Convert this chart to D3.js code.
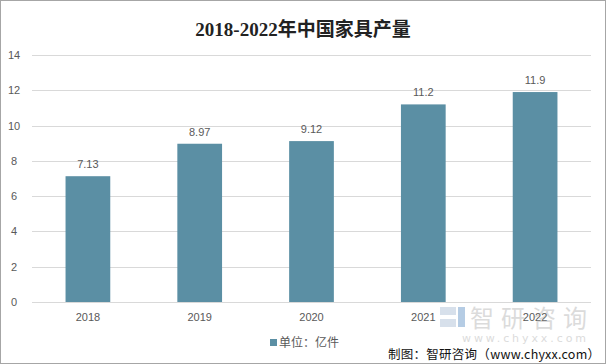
<!DOCTYPE html>
<html><head><meta charset="utf-8">
<script src="https://cdn.jsdelivr.net/npm/d3@7/dist/d3.min.js"></script>
<style>html,body{margin:0;padding:0;background:#fff;}svg{display:block;}</style>
</head><body>
<script>
const categories = ["2018","2019","2020","2021","2022"];
const values = [7.13, 8.97, 9.12, 11.2, 11.9];
const valueLabels = ["7.13","8.97","9.12","11.2","11.9"];
const yTicks = [0,2,4,6,8,10,12,14];
const title = "2018-2022年中国家具产量";
const legendLabel = "单位：亿件";
const source = "制图：智研咨询（www.chyxx.com）";

const W = 606, H = 364;
const svg = d3.select("body").append("svg").attr("width", W).attr("height", H);
svg.append("rect").attr("x",0.5).attr("y",0.5).attr("width",W-1).attr("height",H-1)
  .attr("fill","#fff").attr("stroke","#a6a6a6");

const x = d3.scaleBand().domain(categories).range([32, 591]).paddingInner(0.6).paddingOuter(0.3);
const y = d3.scaleLinear().domain([0,14]).range([302, 55]);

svg.append("text").attr("x", 303).attr("y", 36).attr("text-anchor","middle")
  .attr("font-family","'Liberation Serif','DejaVu Serif','Noto Sans CJK SC',serif")
  .attr("font-weight","bold").attr("font-size",19).attr("fill","#222").text(title);

// gridlines
svg.append("g").selectAll("line").data(yTicks).join("line")
  .attr("x1",32).attr("x2",591).attr("y1",d=>Math.round(y(d))+0.5).attr("y2",d=>Math.round(y(d))+0.5)
  .attr("stroke","#d9d9d9").attr("stroke-width",1);

// y axis labels
const yAxis = d3.axisLeft(y).tickValues(yTicks).tickSize(0).tickPadding(0);
const gy = svg.append("g").attr("transform","translate(20,0)").call(yAxis);
gy.select(".domain").remove();
gy.selectAll("text").attr("font-family","'Liberation Sans',Arial,sans-serif").attr("font-size",11).attr("fill","#595959").attr("text-anchor","middle").attr("dx",-6);

// x axis
const xAxis = d3.axisBottom(x).tickSize(0).tickPadding(11);
const gx = svg.append("g").attr("transform","translate(0,302)").call(xAxis);
gx.select(".domain").remove();
gx.selectAll("text").attr("font-family","'Liberation Sans',Arial,sans-serif").attr("font-size",11).attr("fill","#595959");

// bars
svg.append("g").selectAll("rect").data(values).join("rect")
  .attr("x",(d,i)=>x(categories[i])).attr("width",x.bandwidth())
  .attr("y",d=>y(d)).attr("height",d=>y(0)-y(d)).attr("fill","#5b8fa4");

svg.append("g").selectAll("text").data(values).join("text")
  .attr("x",(d,i)=>x(categories[i])+x.bandwidth()/2).attr("y",d=>y(d)-8)
  .attr("text-anchor","middle").attr("font-family","'Liberation Sans',Arial,sans-serif")
  .attr("font-size",11).attr("fill","#595959").text((d,i)=>valueLabels[i]);

// watermark
const wm = svg.append("g").attr("opacity",0.35);
wm.append("rect").attr("x",440).attr("y",307).attr("width",16).attr("height",8).attr("fill","#8fa8c8");
wm.append("rect").attr("x",440).attr("y",319).attr("width",16).attr("height",8).attr("fill","#8fa8c8");
wm.append("rect").attr("x",458).attr("y",307).attr("width",7).attr("height",20).attr("fill","#2f6fb3");
wm.append("text").attr("x",470).attr("y",327).attr("font-family","'Noto Sans CJK SC',sans-serif")
  .attr("font-size",24).attr("fill","#9a9a9a").attr("textLength",117).attr("lengthAdjust","spacing").text("智研咨询");
wm.append("text").attr("x",462).attr("y",342).attr("font-family","'DejaVu Sans',sans-serif")
  .attr("font-size",11).attr("fill","#9a9a9a").attr("textLength",124).attr("lengthAdjust","spacing").text("www.chyxx.com");

// legend
svg.append("rect").attr("x",270).attr("y",339).attr("width",7).attr("height",7).attr("fill","#5b8fa4");
svg.append("text").attr("x",279).attr("y",347).attr("font-family","'Noto Sans CJK SC',sans-serif")
  .attr("font-size",12).attr("fill","#595959").text(legendLabel);

// source
svg.append("text").attr("x",600).attr("y",359).attr("text-anchor","end")
  .attr("font-family","'Noto Sans CJK SC',sans-serif").attr("font-size",12.5).attr("fill","#111")
  .attr("textLength",212).attr("lengthAdjust","spacing").text(source);
</script>
</body></html>
